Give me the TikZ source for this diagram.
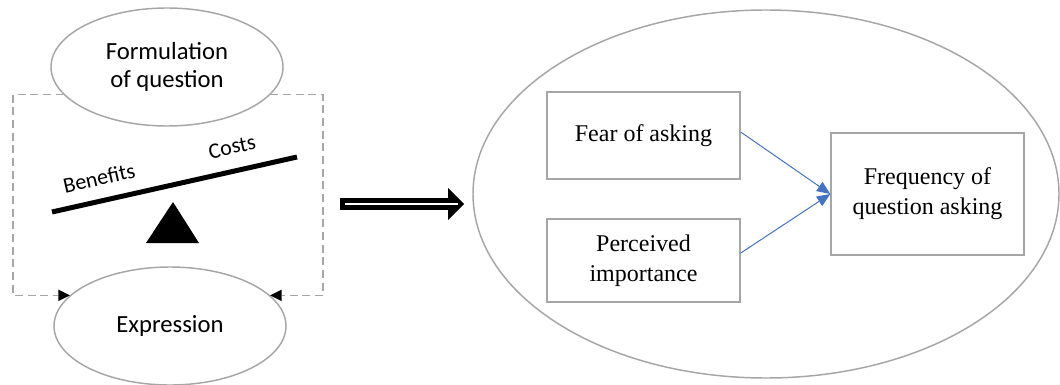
\documentclass[tikz,border=0pt]{standalone}
\usepackage{fontspec}
\setmainfont{Liberation Serif}
\newfontfamily\carlito{Carlito}
\usetikzlibrary{arrows.meta,shapes.geometric}
\definecolor{linegray}{HTML}{A6A6A6}
\definecolor{officeblue}{HTML}{4472C4}

\begin{document}
\begin{tikzpicture}[
        x=0.75pt,
        y=-0.75pt,
        oval/.style={
            ellipse,
            draw=linegray,
            fill=white,
            line width=1.1pt,
            minimum width=174pt,
            minimum height=88.5pt,
            inner sep=0pt,
            align=center,
            font=\carlito\fontsize{18.5}{20.5}\selectfont
        },
        factor/.style={
            rectangle,
            draw=linegray,
            line width=1.1pt,
            minimum width=144.75pt,
            inner sep=0pt,
            align=center,
            font=\fontsize{18}{22.5}\selectfont
        },
        weigh/.style={font=\carlito\fontsize{16.5}{18}\selectfont, rotate=12.6},
        loopline/.style={draw=linegray, line width=1.1pt, dash pattern=on 6pt off 3.5pt,
            -{Triangle[length=8.5pt,width=8.5pt,line width=0pt,black]}},
        effect/.style={draw=officeblue, line width=0.75pt,
            -{Triangle[length=10pt,width=8.5pt,line width=0pt,officeblue]}}
    ]
    \useasboundingbox (0,0) rectangle (1060,385);

    % Left: question asking as a balance
    \node[oval] (formq) at (167,67)  {Formulation\\of question};
    \node[oval] (expr)  at (170,326) {Expression};
    \coordinate (lbend) at (13,200);
    \coordinate (rbend) at (323,200);

    \draw[line width=3.75pt] (52,212) -- (297,157);
    \fill (173,202) -- (146,243) -- (199,243) -- cycle;
    \node[weigh] (benefit) at (99,178)  {Benefits};
    \node[weigh] (cost)    at (232,147) {Costs};

    \draw[loopline] (formq.195) -| (lbend) |- (expr.163);
    \draw[loopline] (formq.-15) -| (rbend) |- (expr.17);

    % Implication arrow
    \coordinate (shiftfrom) at (340,204);
    \coordinate (shiftto)   at (464,204);
    \draw[line width=9.5pt, -{Triangle[length=12pt,width=24pt,line width=0pt]}] (shiftfrom) -- (shiftto);
    \draw[white, line width=1.5pt] ([xshift=3.75pt]shiftfrom) -- ([xshift=-4.5pt]shiftto);

    % Right: model
    \node[ellipse, draw=linegray, line width=1.1pt, minimum width=439.5pt,
          minimum height=276pt, inner sep=0pt] (modelring) at (766,194) {};
    \node[factor, minimum height=65.25pt] (fear)  at (643.5,135.5) {Fear of asking};
    \node[factor, minimum height=62.25pt] (percv) at (643.5,260.5) {Perceived\\importance};
    \node[factor, minimum height=91.5pt]  (freq)  at (927.5,194)   {Frequency of\\question asking};

    \draw[effect] ([yshift=2.6pt]fear.east)  -- (freq.west);
    \draw[effect] ([yshift=5.6pt]percv.east) -- (freq.west);

\end{tikzpicture}
\end{document}
